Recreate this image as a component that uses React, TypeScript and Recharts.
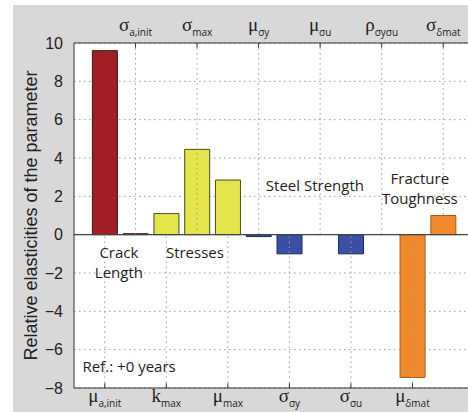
import {
  Bar,
  BarChart,
  CartesianGrid,
  Cell,
  ReferenceDot,
  ReferenceLine,
  XAxis,
  YAxis,
} from "recharts";

// 파라미터 기호 / 아래첨자 / 탄성도 값
const parameterSymbols = ["μ", "σ", "k", "σ", "μ", "μ", "σ", "μ", "σ", "ρ", "μ", "σ"];
const parameterSubscripts = [
  "a,init",
  "a,init",
  "max",
  "max",
  "max",
  "σy",
  "σy",
  "σu",
  "σu",
  "σyσu",
  "δmat",
  "δmat",
];
const elasticities = [9.6, 0.05, 1.1, 4.45, 2.85, -0.1, -1.0, 0, -1.0, 0, -7.45, 1.0];
const parameterGroups = [
  "crack",
  "crack",
  "stress",
  "stress",
  "stress",
  "steel",
  "steel",
  "steel",
  "steel",
  "steel",
  "fracture",
  "fracture",
];
const yTicks = [-8, -6, -4, -2, 0, 2, 4, 6, 8, 10];

// 그룹별 색상
const groupFill: Record<string, string> = {
  crack: "#a11f24",
  stress: "#e4e44b",
  steel: "#3a50a6",
  fracture: "#f2882c",
};
const groupStroke: Record<string, string> = {
  crack: "#3b1414",
  stress: "#4b4b24",
  steel: "#1e2a62",
  fracture: "#a65a1c",
};

// 그룹 설명 텍스트 (데이터 좌표 기준)
const annotations = [
  { x: 1.46, y: -0.92, lines: ["Crack", "Length"], anchor: "middle" },
  { x: 3.93, y: -0.92, lines: ["Stresses"], anchor: "middle" },
  { x: 7.83, y: 2.61, lines: ["Steel Strength"], anchor: "middle" },
  { x: 11.24, y: 2.97, lines: ["Fracture", "Toughness"], anchor: "middle" },
  { x: 0.28, y: -6.87, lines: ["Ref.: +0 years"], anchor: "start" },
];

const chartData = elasticities.map((v, i) => ({
  pos: i + 1,
  value: v,
  group: parameterGroups[i],
}));

// 아래 축: 홀수 위치, 위 축: 짝수 위치
const bottomTicks = chartData.filter((_, i) => i % 2 === 0).map((d) => d.pos);
const topTicks = chartData.filter((_, i) => i % 2 === 1).map((d) => d.pos);

const GRID = "#9a9a9a";
const TEXT = "#222";

const ParamTick = (props: any) => {
  const { x, y, payload, side } = props;
  const i = payload.value - 1;
  return (
    <text
      x={x}
      y={side === "top" ? y - 4 : y + 6}
      textAnchor="middle"
      fill={TEXT}
    >
      <tspan fontFamily="Liberation Serif" fontSize={19}>
        {parameterSymbols[i]}
      </tspan>
      <tspan fontFamily="Open Sans" fontSize={10} dy={5}>
        {parameterSubscripts[i]}
      </tspan>
    </text>
  );
};

const fmtY = (v: number) => (v < 0 ? `−${-v}` : `${v}`);

export default function App() {
  return (
    <div
      style={{
        position: "absolute",
        top: 0,
        left: 0,
        width: 468,
        height: 412,
        overflow: "hidden",
        background: "#fff",
      }}
    >
      {/* 회색 바탕 */}
      <div
        style={{
          position: "absolute",
          left: 13,
          top: 5,
          width: 455,
          height: 407,
          background: "#d8d8d8",
        }}
      />
      <div style={{ position: "absolute", left: 0, top: 0 }}>
        <BarChart
          width={520}
          height={412}
          data={chartData}
          margin={{ top: 0, right: 46, bottom: 0, left: 0 }}
        >
          <CartesianGrid
            vertical={false}
            fill="#fff"
            stroke={GRID}
            strokeDasharray="1.5 3.5"
          />
          <XAxis
            type="number"
            dataKey="pos"
            domain={[0, 13]}
            ticks={bottomTicks}
            interval={0}
            height={24}
            axisLine={{ stroke: "#333" }}
            tickLine={false}
            tick={<ParamTick side="bottom" />}
          />
          <XAxis
            xAxisId="top"
            orientation="top"
            type="number"
            dataKey="pos"
            domain={[0, 13]}
            ticks={topTicks}
            interval={0}
            height={43}
            axisLine={{ stroke: "#333" }}
            tickLine={false}
            tick={<ParamTick side="top" />}
          />
          <YAxis
            type="number"
            domain={[-8, 10]}
            ticks={yTicks}
            interval={0}
            width={74}
            axisLine={{ stroke: "#333" }}
            tickLine={false}
            tickMargin={5}
            tickFormatter={fmtY}
            tick={{
              fontSize: 16,
              fill: TEXT,
              fontFamily: "Liberation Sans",
            }}
            label={{
              value: "Relative elasticities of the parameter",
              angle: -90,
              position: "insideLeft",
              offset: 31,
              style: {
                textAnchor: "middle",
                fontSize: 18,
                fill: TEXT,
                fontFamily: "Liberation Sans",
              },
            }}
          />

          {/* 위쪽 절반: 위 축 위치의 세로 점선 */}
          {topTicks.map((p) => (
            <ReferenceLine
              key={`gt-${p}`}
              segment={[
                { x: p, y: 0 },
                { x: p, y: 10 },
              ]}
              stroke={GRID}
              strokeDasharray="1.5 3.5"
            />
          ))}
          {/* 아래쪽 절반: 아래 축 위치의 세로 점선 */}
          {bottomTicks.map((p) => (
            <ReferenceLine
              key={`gb-${p}`}
              segment={[
                { x: p, y: -8 },
                { x: p, y: 0 },
              ]}
              stroke={GRID}
              strokeDasharray="1.5 3.5"
            />
          ))}
          {/* 안쪽 눈금 */}
          {topTicks.map((p) => (
            <ReferenceLine
              key={`tt-${p}`}
              segment={[
                { x: p, y: 10 },
                { x: p, y: 9.75 },
              ]}
              stroke="#333"
            />
          ))}
          {bottomTicks.map((p) => (
            <ReferenceLine
              key={`tb-${p}`}
              segment={[
                { x: p, y: -8 },
                { x: p, y: -7.75 },
              ]}
              stroke="#333"
            />
          ))}

          <ReferenceLine y={0} stroke="#444" strokeWidth={1.2} />

          <Bar dataKey="value" barSize={25} isAnimationActive={false}>
            {chartData.map((d, i) => (
              <Cell
                key={`cell-${i}`}
                fill={groupFill[d.group]}
                stroke={groupStroke[d.group]}
                strokeWidth={1}
              />
            ))}
          </Bar>

          {annotations.map((a, i) => (
            <ReferenceDot
              key={`ann-${i}`}
              x={a.x}
              y={a.y}
              r={0}
              shape={(p: any) => (
                <text
                  x={p.cx}
                  y={p.cy}
                  textAnchor={a.anchor}
                  dominantBaseline="central"
                  fontFamily="Open Sans"
                  fontSize={15}
                  fill={TEXT}
                >
                  {a.lines.map((line, j) => (
                    <tspan key={j} x={p.cx} dy={j === 0 ? 0 : 20}>
                      {line}
                    </tspan>
                  ))}
                </text>
              )}
            />
          ))}
        </BarChart>
      </div>
    </div>
  );
}
